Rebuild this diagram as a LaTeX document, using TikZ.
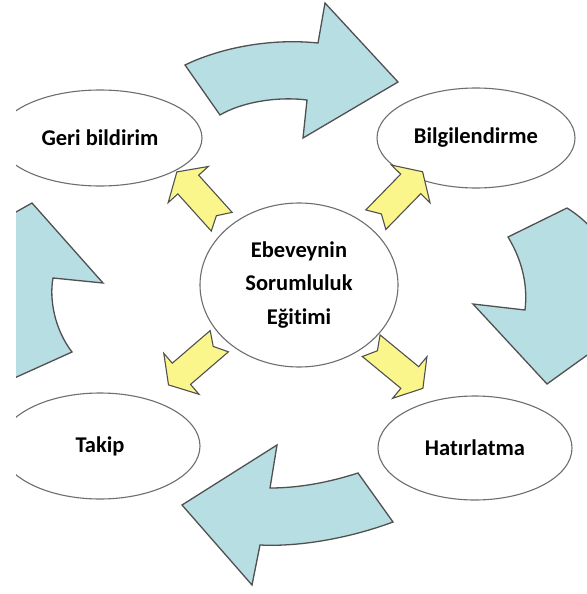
\documentclass[tikz,border=0pt]{standalone}
\usepackage{fontspec}
\setmainfont{Carlito}[Ligatures=NoCommon]
\usetikzlibrary{shapes.geometric}
\definecolor{cyanfill}{RGB}{183,222,226}
\definecolor{yelfill}{RGB}{250,246,140}
\definecolor{edgegray}{RGB}{80,80,80}
\definecolor{ringgray}{RGB}{110,110,110}
\newcommand\yarrow[3]{%
  \begin{scope}[shift={(#1,#2)},rotate=#3]
    \draw[smallarrow] (0,14) -- (50,14) -- (50,27) -- (67,0) -- (50,-27) -- (50,-14) -- (0,-14) -- (8,0) -- cycle;
  \end{scope}}
\begin{document}
\begin{tikzpicture}[x=1pt,y=-1pt,
  bubble/.style={ellipse, draw=ringgray, line width=1.1pt, fill=white, inner sep=0pt,
    font=\bfseries\fontsize{22.5}{33.5}\selectfont, align=center},
  bigarrow/.style={fill=cyanfill, draw=edgegray, line width=1.3pt, line join=miter},
  smallarrow/.style={fill=yelfill, draw=edgegray, line width=1.1pt, line join=miter}]
\useasboundingbox (0,0) rectangle (586,594);
\begin{scope}
\clip (16,-5) rectangle (592,600);
% curved cyan arrows
\draw[bigarrow] (185,65) -- (220,115) .. controls (240,103) and (275,96) .. (307,100)
  -- (303,138) -- (398,82) -- (325,3) -- (318,43) .. controls (270,38) and (220,48) .. (185,65) -- cycle;
\draw[bigarrow] (508,237) -- (567,208) .. controls (590,222) and (615,250) .. (622,290)
  -- (622,330) -- (547,384) -- (473,304) -- (525,310) .. controls (528,285) and (522,260) .. (508,237) -- cycle;
\draw[bigarrow] (-10,226.6) -- (32,203) -- (103,283) -- (53,278) .. controls (49,300) and (55,330) .. (72,352)
  -- (-10,389) -- cycle;
\draw[bigarrow] (358,473) -- (393,522) .. controls (350,538) and (300,547) .. (260,545)
  -- (252,585) -- (182,505) -- (277,445) -- (270,488) .. controls (300,488) and (330,482) .. (358,473) -- cycle;
% ellipses
\node[bubble, minimum width=204pt, minimum height=96pt] (geri) at (100,138) {Geri bildirim};
\node[bubble, minimum width=198pt, minimum height=100pt] (bilgi) at (476,138) {Bilgilendirme};
\node[bubble, minimum width=200pt, minimum height=106pt] (takip) at (100,446) {Takip};
\node[bubble, minimum width=194pt, minimum height=104pt] (hatir) at (475,448) {Hatırlatma};
\node[bubble, minimum width=198pt, minimum height=164pt] (merkez) at (299,285) {Ebeveynin\\Sorumluluk\\Eğitimi};
% yellow arrows
\yarrow{221.7}{221.7}{132}
\yarrow{375.8}{219.7}{45.7}
\yarrow{219.3}{341.2}{220.7}
\yarrow{371.2}{345.7}{-39.5}
\end{scope}
\end{tikzpicture}
\end{document}
